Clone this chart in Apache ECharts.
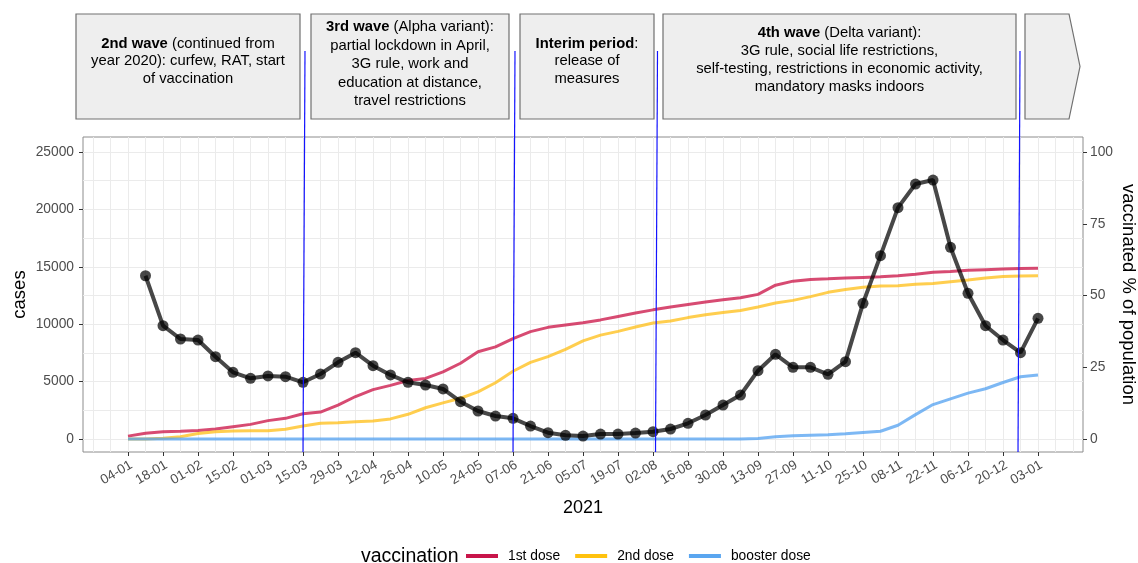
<!DOCTYPE html>
<html>
<head>
<meta charset="utf-8">
<script src="https://cdn.jsdelivr.net/npm/echarts@6.0.0/dist/echarts.min.js"></script>
<style>
  html, body { margin: 0; padding: 0; background: #fff; }
  #chart { width: 1138px; height: 563px; }
</style>
</head>
<body>
<div id="chart"></div>
<script>
// weekly dates (Mondays), 2021-01-04 .. 2022-01-03
const weeks = [
  '2021-01-04','2021-01-11','2021-01-18','2021-01-25','2021-02-01','2021-02-08','2021-02-15','2021-02-22',
  '2021-03-01','2021-03-08','2021-03-15','2021-03-22','2021-03-29','2021-04-05','2021-04-12','2021-04-19',
  '2021-04-26','2021-05-03','2021-05-10','2021-05-17','2021-05-24','2021-05-31','2021-06-07','2021-06-14',
  '2021-06-21','2021-06-28','2021-07-05','2021-07-12','2021-07-19','2021-07-26','2021-08-02','2021-08-09',
  '2021-08-16','2021-08-23','2021-08-30','2021-09-06','2021-09-13','2021-09-20','2021-09-27','2021-10-04',
  '2021-10-11','2021-10-18','2021-10-25','2021-11-01','2021-11-08','2021-11-15','2021-11-22','2021-11-29',
  '2021-12-06','2021-12-13','2021-12-20','2021-12-27','2022-01-03'
];

const tickLabels = ['04-01','18-01','01-02','15-02','01-03','15-03','29-03','12-04','26-04','10-05','24-05',
  '07-06','21-06','05-07','19-07','02-08','16-08','30-08','13-09','27-09','11-10','25-10','08-11','22-11',
  '06-12','20-12','03-01'];

// weekly new cases (from 2021-01-11)
const cases = [14220, 9870, 8710, 8620, 7170, 5810, 5290, 5490, 5430, 4940, 5660, 6680, 7520, 6390, 5580,
  4940, 4700, 4360, 3250, 2440, 2000, 1800, 1130, 550, 320, 260, 430, 430, 520, 640, 870, 1370, 2090,
  2960, 3830, 5950, 7380, 6240, 6240, 5630, 6740, 11820, 15970, 20150, 22210, 22560, 16700, 12690, 9870,
  8620, 7520, 10510];

// vaccinated % of population (from 2021-01-04)
const dose1 = [1.0, 2.0, 2.5, 2.7, 3.0, 3.5, 4.3, 5.1, 6.4, 7.2, 8.8, 9.4, 11.8, 14.8, 17.2, 18.7, 20.4,
  21.1, 23.4, 26.4, 30.4, 32.1, 35.0, 37.4, 38.9, 39.7, 40.5, 41.5, 42.7, 43.9, 45.0, 46.0, 46.9, 47.7,
  48.5, 49.2, 50.4, 53.6, 55.0, 55.6, 55.8, 56.1, 56.3, 56.5, 56.9, 57.4, 58.1, 58.4, 58.8, 59.0, 59.2,
  59.4, 59.5];
const dose2 = [0, 0, 0.3, 0.8, 1.9, 2.5, 2.8, 2.9, 2.9, 3.4, 4.5, 5.5, 5.7, 6.0, 6.3, 7.0, 8.6, 10.9,
  12.6, 14.2, 16.4, 19.6, 23.6, 26.7, 28.7, 31.2, 34.2, 36.2, 37.5, 39.0, 40.4, 41.1, 42.3, 43.3, 44.1,
  44.8, 46.0, 47.4, 48.3, 49.6, 51.1, 52.1, 52.9, 53.3, 53.4, 53.9, 54.2, 54.8, 55.4, 56.1, 56.6, 56.8,
  56.9];
const booster = [0, 0, 0, 0, 0, 0, 0, 0, 0, 0, 0, 0, 0, 0, 0, 0, 0, 0, 0, 0, 0, 0, 0, 0, 0, 0, 0, 0, 0,
  0, 0, 0, 0, 0, 0, 0, 0.2, 0.8, 1.1, 1.3, 1.5, 1.8, 2.3, 2.7, 4.8, 8.5, 12.0, 14.0, 16.0, 17.5, 19.7,
  21.7, 22.3];

const caseTicks = [0, 5000, 10000, 15000, 20000, 25000];
const pctTicks = [0, 25, 50, 75, 100];

// period separators (dates)
const separators = ['2021-03-15', '2021-06-07', '2021-08-03', '2021-12-26'];

const DAY0 = Date.UTC(2021, 0, 4);
function dayOf(s) {
  const p = s.split('-').map(Number);
  return (Date.UTC(p[0], p[1] - 1, p[2]) - DAY0) / 86400000;
}

const weekDays = weeks.map(dayOf);
const tickDays = weekDays.filter((d, i) => i % 2 === 0);
const labelOf = {};
tickDays.forEach((d, i) => { labelOf[d] = tickLabels[i]; });

const gridX = [];
for (let d = -14; d <= 378; d += 7) gridX.push(d);
const gridY = [];
for (let v = 0; v <= 25000; v += 2500) gridY.push(v);

const FONT = '"Liberation Sans", Arial, Helvetica, sans-serif';
const X_MIN = -18, X_MAX = 382;
const Y_MIN = -1132, Y_MAX = 26307;

const chart = echarts.init(document.getElementById('chart'));

const option = {
  animation: false,
  textStyle: { fontFamily: FONT },
  grid: {
    left: 83, right: 55, top: 137, bottom: 111,
    show: true, borderColor: '#8c8c8c', borderWidth: 1, backgroundColor: '#fff',
    outerBoundsMode: 'none'
  },
  legend: {
    left: 466, top: 549, padding: 0,
    icon: 'rect', itemWidth: 32, itemHeight: 4, itemGap: 15,
    textStyle: { fontSize: 13.8, color: '#000', fontFamily: FONT, padding: [0, 0, 0, 5] },
    data: ['1st dose', '2nd dose', 'booster dose']
  },
  xAxis: [
    {
      type: 'value', min: X_MIN, max: X_MAX,
      axisLine: { show: false, onZero: false },
      axisTick: { show: true, customValues: tickDays, length: 4, lineStyle: { color: '#333' } },
      axisLabel: {
        customValues: tickDays, formatter: v => labelOf[v] || '',
        rotate: 30, verticalAlign: 'top', color: '#4d4d4d', fontSize: 13.5, margin: 6, fontFamily: FONT
      },
      splitLine: { show: false },
      name: '2021', nameLocation: 'middle', nameGap: 47, nameMoveOverlap: false,
      nameTextStyle: { fontSize: 18, color: '#000', fontFamily: FONT }
    },
    {
      type: 'value', min: X_MIN, max: X_MAX, position: 'top',
      axisLine: { show: false, onZero: false },
      axisTick: { show: false, customValues: gridX },
      axisLabel: { show: false },
      splitLine: { show: true, lineStyle: { color: '#ebebeb', width: 1 } }
    }
  ],
  yAxis: [
    {
      type: 'value', min: Y_MIN, max: Y_MAX, position: 'left',
      axisLine: { show: false, onZero: false },
      axisTick: { show: true, customValues: caseTicks, length: 4, lineStyle: { color: '#333' } },
      axisLabel: {
        customValues: caseTicks, formatter: v => String(v),
        color: '#4d4d4d', fontSize: 13.8, margin: 9, fontFamily: FONT
      },
      splitLine: { show: false },
      name: 'cases', nameLocation: 'middle', nameGap: 54, nameRotate: 90, nameMoveOverlap: false,
      nameTextStyle: { fontSize: 18.5, color: '#000', fontFamily: FONT }
    },
    {
      type: 'value', min: Y_MIN / 250, max: Y_MAX / 250, position: 'right',
      axisLine: { show: false, onZero: false },
      axisTick: { show: true, customValues: pctTicks, length: 4, lineStyle: { color: '#333' } },
      axisLabel: {
        customValues: pctTicks, formatter: v => String(v),
        color: '#4d4d4d', fontSize: 13.8, margin: 7, fontFamily: FONT
      },
      splitLine: { show: false },
      name: 'vaccinated % of population', nameLocation: 'middle', nameGap: 36, nameRotate: -90,
      nameMoveOverlap: false,
      nameTextStyle: { fontSize: 18.5, color: '#000', fontFamily: FONT }
    },
    {
      type: 'value', min: Y_MIN, max: Y_MAX, position: 'left',
      axisLine: { show: false, onZero: false },
      axisTick: { show: false, customValues: gridY },
      axisLabel: { show: false },
      splitLine: { show: true, lineStyle: { color: '#ebebeb', width: 1 } }
    }
  ],
  series: [
    {
      name: '1st dose', type: 'line', xAxisIndex: 0, yAxisIndex: 1,
      data: weekDays.map((d, i) => [d, dose1[i]]),
      showSymbol: false, symbol: 'none',
      itemStyle: { color: '#c8154a' },
      lineStyle: { color: 'rgba(204, 24, 74, 0.78)', width: 3 },
      z: 2
    },
    {
      name: '2nd dose', type: 'line', xAxisIndex: 0, yAxisIndex: 1,
      data: weekDays.map((d, i) => [d, dose2[i]]),
      showSymbol: false, symbol: 'none',
      itemStyle: { color: '#ffc20e' },
      lineStyle: { color: 'rgba(255, 190, 20, 0.75)', width: 3 },
      z: 2
    },
    {
      name: 'booster dose', type: 'line', xAxisIndex: 0, yAxisIndex: 1,
      data: weekDays.map((d, i) => [d, booster[i]]),
      showSymbol: false, symbol: 'none',
      itemStyle: { color: '#5aa6f0' },
      lineStyle: { color: 'rgba(82, 160, 240, 0.75)', width: 3 },
      z: 2
    },
    {
      name: 'cases', type: 'line', xAxisIndex: 0, yAxisIndex: 0,
      data: weekDays.slice(1).map((d, i) => [d, cases[i]]),
      symbol: 'circle', symbolSize: 11, showSymbol: true,
      itemStyle: { color: 'rgba(0, 0, 0, 0.72)' },
      lineStyle: { color: 'rgba(0, 0, 0, 0.72)', width: 4 },
      z: 3
    }
  ]
};

chart.setOption(option);

// period boxes above the plot
const boxStyle = { fill: '#eeeeee', stroke: '#707070', lineWidth: 1.2 };
const boxes = [
  { x: 76, w: 224, ty: 61, lh: 17.5, text: '{b|2nd wave} (continued from\nyear 2020): curfew, RAT, start\nof vaccination' },
  { x: 311, w: 198, ty: 64, lh: 18.5, text: '{b|3rd wave} (Alpha variant):\npartial lockdown in April,\n3G rule, work and\neducation at distance,\ntravel restrictions' },
  { x: 520, w: 134, ty: 61, lh: 17.5, text: '{b|Interim period}:\nrelease of\nmeasures' },
  { x: 663, w: 353, ty: 60, lh: 17.8, text: '{b|4th wave} (Delta variant):\n3G rule, social life restrictions,\nself-testing, restrictions in economic activity,\nmandatory masks indoors' }
];
const graphics = [];
boxes.forEach(b => {
  graphics.push({ type: 'rect', shape: { x: b.x, y: 14, width: b.w, height: 105 }, style: boxStyle, z: 10 });
  graphics.push({
    type: 'text', x: b.x + b.w / 2, y: b.ty, z: 11,
    style: {
      text: b.text, align: 'center', verticalAlign: 'middle', fill: '#000',
      fontSize: 14.8, fontFamily: FONT, lineHeight: b.lh,
      rich: { b: { fontWeight: 'bold', fontSize: 14.8, fontFamily: FONT, lineHeight: b.lh } }
    }
  });
});
graphics.push({
  type: 'polygon', z: 10,
  shape: { points: [[1025, 14], [1069, 14], [1080, 66.5], [1069, 119], [1025, 119]] },
  style: boxStyle
});

separators.forEach(s => {
  const xb = chart.convertToPixel({ xAxisIndex: 0 }, dayOf(s));
  graphics.push({
    type: 'line', z: 12,
    shape: { x1: xb + 2, y1: 51, x2: xb, y2: 452 },
    style: { stroke: '#1414ff', lineWidth: 1.2 }
  });
});

graphics.push({
  type: 'text', x: 361, y: 557, z: 11,
  style: { text: 'vaccination', fontSize: 19.5, fontFamily: FONT, fill: '#000', verticalAlign: 'middle', align: 'left' }
});

chart.setOption({ graphic: graphics });
</script>
</body>
</html>
